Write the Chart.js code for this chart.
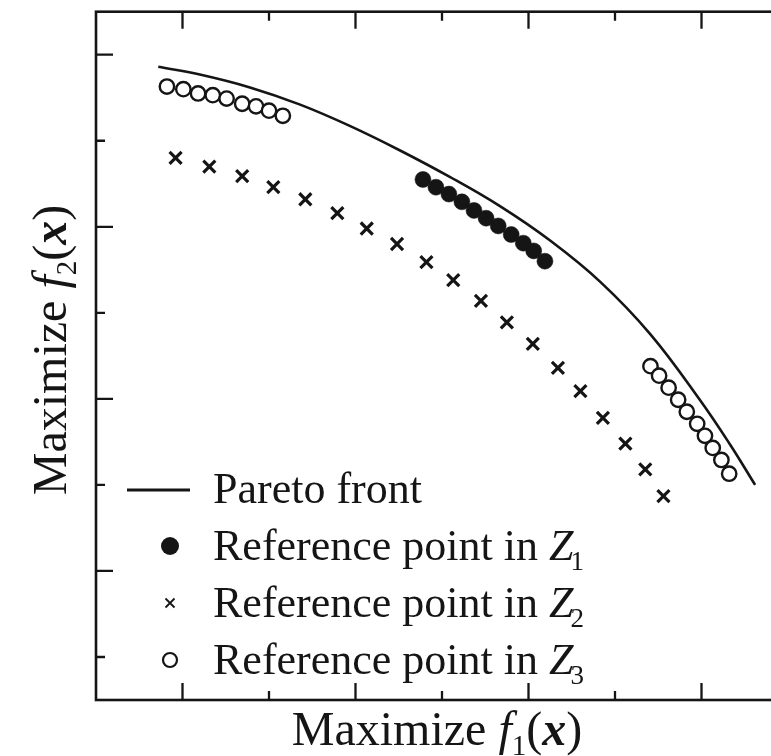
<!DOCTYPE html>
<html>
<head>
<meta charset="utf-8">
<script src="https://cdn.jsdelivr.net/npm/chart.js@4.4.1/dist/chart.umd.min.js"></script>
<style>
  html, body { margin: 0; padding: 0; background: #fff; overflow: hidden; }
  #wrap { position: relative; width: 800px; height: 756px; }
  canvas { display: block; }
</style>
</head>
<body>
<div id="wrap"><canvas id="c" width="800" height="756"></canvas></div>
<script>
// ---------- data (axis units: one unit = one tick spacing) ----------
const paretoF1 = [0.72, 1.20, 1.78, 2.36, 2.94, 3.51, 4.09, 4.67, 5.25, 5.83, 6.41, 6.98, 7.33, 7.62];
const paretoF2 = [7.36, 7.27, 7.12, 6.92, 6.67, 6.39, 6.08, 5.74, 5.34, 4.86, 4.25, 3.49, 2.97, 2.50];

const z1F1 = [3.78, 3.93, 4.08, 4.23, 4.37, 4.51, 4.65, 4.80, 4.94, 5.06, 5.19];
const z1F2 = [6.05, 5.96, 5.88, 5.79, 5.69, 5.60, 5.51, 5.41, 5.31, 5.22, 5.10];

const z2F1 = [0.92, 1.31, 1.69, 2.05, 2.42, 2.79, 3.13, 3.48, 3.82, 4.13, 4.45, 4.75, 5.05, 5.34, 5.60, 5.86, 6.12, 6.35, 6.56];
const z2F2 = [6.30, 6.20, 6.09, 5.96, 5.82, 5.66, 5.48, 5.30, 5.09, 4.88, 4.64, 4.39, 4.14, 3.86, 3.59, 3.28, 2.98, 2.68, 2.37];

const z3F1 = [0.82, 1.01, 1.18, 1.35, 1.51, 1.69, 1.85, 2.00, 2.16,
              6.41, 6.51, 6.62, 6.73, 6.83, 6.95, 7.04, 7.13, 7.23, 7.32];
const z3F2 = [7.13, 7.10, 7.05, 7.03, 6.99, 6.93, 6.90, 6.85, 6.79,
              3.88, 3.77, 3.63, 3.49, 3.35, 3.21, 3.07, 2.93, 2.79, 2.63];

const xTicks = [1, 2, 3, 4, 5, 6, 7];
const xMajor = [1, 3, 5, 7];
const yTicks = [0.5, 1.5, 2.5, 3.5, 4.5, 5.5, 6.5, 7.5];
const yMajor = [1.5, 3.5, 5.5, 7.5];

const seriesNames = ['Pareto front', 'Reference point in Z', 'Reference point in Z', 'Reference point in Z'];
const seriesSubs = ['', '1', '2', '3'];
const xTitle = ['Maximize ', 'f', '1', '(', 'x', ')'];
const yTitle = ['Maximize ', 'f', '2', '(', 'x', ')'];

// ---------- build ----------
const pts = (a, b) => a.map((v, i) => ({ x: v, y: b[i] }));
const INK = '#151515';
const FONT = '"Liberation Serif", "Times New Roman", Times, serif';

function richParts(arr, size) {
  return [
    { t: arr[0], f: '', s: size, dy: 0 },
    { t: arr[1], f: 'italic ', s: size, dy: 0 },
    { t: arr[2], f: '', s: Math.round(size * 0.6), dy: size * 0.2 },
    { t: arr[3], f: '', s: size, dy: 0 },
    { t: arr[4], f: 'italic bold ', s: size, dy: 0 },
    { t: arr[5], f: '', s: size, dy: 0 }
  ];
}
function measure(ctx, parts) {
  let w = 0;
  parts.forEach(p => { ctx.font = p.f + p.s + 'px ' + FONT; w += ctx.measureText(p.t).width; });
  return w;
}
function drawParts(ctx, parts, x, y) {
  let cx = x;
  parts.forEach(p => {
    ctx.font = p.f + p.s + 'px ' + FONT;
    ctx.fillText(p.t, cx, y + p.dy);
    cx += ctx.measureText(p.t).width;
  });
}

const framePlugin = {
  id: 'frame',
  afterDatasetsDraw(chart) {
    const ctx = chart.ctx;
    const xs = chart.scales.x, ys = chart.scales.y;
    const L = xs.getPixelForValue(xs.min), R = xs.getPixelForValue(xs.max);
    const T = ys.getPixelForValue(ys.max), B = ys.getPixelForValue(ys.min);
    ctx.save();
    ctx.strokeStyle = INK;
    ctx.lineWidth = 2.6;
    ctx.lineCap = 'butt';
    ctx.strokeRect(L, T, R - L, B - T);
    ctx.lineWidth = 2.3;
    xTicks.forEach(v => {
      const p = xs.getPixelForValue(v);
      const len = xMajor.includes(v) ? 17 : 9;
      ctx.beginPath();
      ctx.moveTo(p, B); ctx.lineTo(p, B - len);
      ctx.moveTo(p, T); ctx.lineTo(p, T + len);
      ctx.stroke();
    });
    yTicks.forEach(v => {
      const p = ys.getPixelForValue(v);
      const len = yMajor.includes(v) ? 17 : 9;
      ctx.beginPath();
      ctx.moveTo(L, p); ctx.lineTo(L + len, p);
      ctx.moveTo(R, p); ctx.lineTo(R - len, p);
      ctx.stroke();
    });

    // axis titles
    ctx.fillStyle = INK;
    ctx.textBaseline = 'alphabetic';
    ctx.textAlign = 'left';
    const xp = richParts(xTitle, 48);
    const xw = measure(ctx, xp);
    drawParts(ctx, xp, 437 - xw / 2, 745);
    const yp = richParts(yTitle, 48);
    const yw = measure(ctx, yp);
    ctx.save();
    ctx.translate(66, 350);
    ctx.rotate(-Math.PI / 2);
    drawParts(ctx, yp, -yw / 2, 0);
    ctx.restore();

    // legend
    const rows = [503, 560, 617, 674];
    const mx = 170, tx = 213;
    ctx.lineWidth = 3;
    ctx.beginPath(); ctx.moveTo(127, 490); ctx.lineTo(190, 490); ctx.stroke();
    ctx.beginPath(); ctx.arc(mx, 546, 9, 0, Math.PI * 2); ctx.fill();
    ctx.lineWidth = 1.8;
    ctx.beginPath();
    ctx.moveTo(mx - 4.5, 603 - 4.5); ctx.lineTo(mx + 4.5, 603 + 4.5);
    ctx.moveTo(mx - 4.5, 603 + 4.5); ctx.lineTo(mx + 4.5, 603 - 4.5);
    ctx.stroke();
    ctx.lineWidth = 2.2;
    ctx.beginPath(); ctx.arc(mx, 660, 7, 0, Math.PI * 2); ctx.stroke();

    seriesNames.forEach((name, i) => {
      const y = rows[i];
      ctx.font = '44px ' + FONT;
      if (!seriesSubs[i]) { ctx.fillText(name, tx, y); return; }
      const base = name.slice(0, -1);
      ctx.fillText(base, tx, y);
      let cx = tx + ctx.measureText(base).width;
      ctx.font = 'italic 44px ' + FONT;
      ctx.fillText('Z', cx, y);
      cx += ctx.measureText('Z').width - 3;
      ctx.font = '27px ' + FONT;
      ctx.fillText(seriesSubs[i], cx, y + 10);
    });
    ctx.restore();
  }
};

new Chart(document.getElementById('c'), {
  type: 'scatter',
  data: {
    datasets: [
      {
        label: 'Pareto front', data: pts(paretoF1, paretoF2), showLine: true,
        borderColor: INK, borderWidth: 2.6, pointRadius: 0, tension: 0.4, fill: false
      },
      {
        label: 'Reference point in Z1', data: pts(z1F1, z1F2),
        pointStyle: 'circle', pointRadius: 8, backgroundColor: INK, borderColor: INK, borderWidth: 0.5
      },
      {
        label: 'Reference point in Z2', data: pts(z2F1, z2F2),
        pointStyle: 'crossRot', pointRadius: 8.5, borderColor: INK, borderWidth: 3.2
      },
      {
        label: 'Reference point in Z3', data: pts(z3F1, z3F2),
        pointStyle: 'circle', pointRadius: 7.2, backgroundColor: '#ffffff', borderColor: INK, borderWidth: 2.4
      }
    ]
  },
  options: {
    responsive: false,
    animation: false,
    devicePixelRatio: 1,
    layout: { padding: { left: 96, top: 10, right: 12, bottom: 56 } },
    scales: {
      x: { type: 'linear', min: 0, max: 8, display: false },
      y: { type: 'linear', min: 0, max: 8, display: false }
    },
    plugins: { legend: { display: false }, tooltip: { enabled: false } },
    elements: { point: { hoverRadius: 0 } }
  },
  plugins: [framePlugin]
});
</script>
</body>
</html>
